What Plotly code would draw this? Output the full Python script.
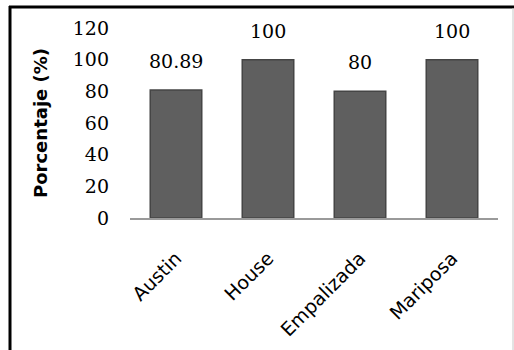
import plotly.graph_objects as go

categories = ["Austin", "House", "Empalizada", "Mariposa"]
values = [80.89, 100, 80, 100]
value_labels = ["80.89", "100", "80", "100"]
y_ticks = [0, 20, 40, 60, 80, 100, 120]

W, H = 514, 350
L, R, T, B = 130, 16, 28, 132
pw, ph = W - L - R, H - T - B

def px_x(x):
    return (x - L) / pw

def px_y(y):
    return 1 - (y - T) / ph

fig = go.Figure()
fig.add_trace(go.Bar(
    x=categories, y=values,
    marker=dict(color="#5f5f5f", line=dict(color="#454545", width=1.5)),
    width=0.56,
    hoverinfo="skip",
))

for c, v, lab in zip(categories, values, value_labels):
    fig.add_annotation(x=c, y=v, text=lab, showarrow=False,
                       yanchor="bottom", yshift=16,
                       font=dict(family="DejaVu Serif", size=19, color="#000000"))

# figure frame lines
fig.add_shape(type="line", xref="paper", yref="paper",
              x0=px_x(10), x1=px_x(10), y0=px_y(6), y1=px_y(360),
              line=dict(color="#000000", width=3))
fig.add_shape(type="line", xref="paper", yref="paper",
              x0=px_x(9), x1=px_x(520), y0=px_y(7), y1=px_y(7),
              line=dict(color="#000000", width=3))
fig.add_shape(type="line", xref="paper", yref="paper",
              x0=px_x(513), x1=px_x(513), y0=px_y(8), y1=px_y(360),
              line=dict(color="#c8c8c8", width=1))

fig.update_layout(
    width=W, height=H,
    margin=dict(l=L, r=R, t=T, b=B, autoexpand=False),
    paper_bgcolor="white", plot_bgcolor="white",
    showlegend=False,
    bargap=0.44,
    xaxis=dict(
        automargin=False,
        showline=True, linecolor="#9a9a9a", linewidth=1.5,
        showgrid=False, ticks="", tickangle=-45,
        ticklabelstandoff=20,
        tickfont=dict(family="DejaVu Sans", size=19, color="#000000"),
    ),
    yaxis=dict(
        automargin=False,
        range=[0, 120], tickvals=y_ticks, showgrid=False, zeroline=False,
        showline=False, ticks="", ticklabelstandoff=20,
        tickfont=dict(family="DejaVu Serif", size=19, color="#000000"),
        title=dict(text="Porcentaje (%)", standoff=20,
                   font=dict(family="DejaVu Sans", size=18, color="#000000", weight="bold")),
    ),
)

fig.write_html("out.html")
